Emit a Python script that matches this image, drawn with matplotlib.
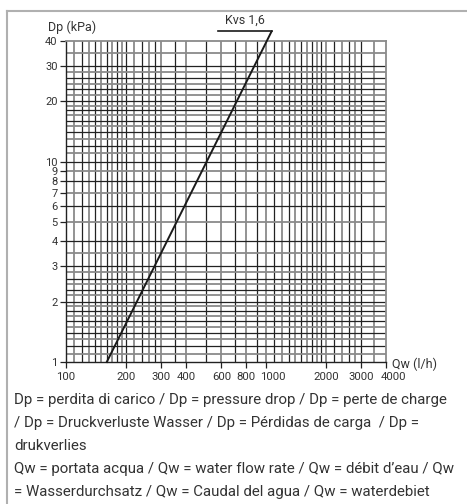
import matplotlib
matplotlib.use("Agg")
import matplotlib.pyplot as plt
from matplotlib.lines import Line2D
from matplotlib.transforms import ScaledTranslation

# Kvs 1,6 curve (endpoints)
qw_line = [160, 1070]
dp_line = [1.0, 44.7]
kvs_label = "Kvs 1,6"

x_ticks = [100, 200, 300, 400, 600, 800, 1000, 2000, 3000, 4000]
y_ticks = [1, 2, 3, 4, 5, 6, 7, 8, 9, 10, 20, 30, 40]

x_grid = ([110, 120, 130, 140, 150, 160, 170, 180, 190, 200,
           220, 240, 260, 280, 300, 350, 400, 500, 600, 700, 800, 900, 1000,
           1100, 1200, 1300, 1400, 1500, 1600, 1700, 1800, 1900, 2000,
           2200, 2400, 2600, 2800, 3000, 3500])
y_grid = ([1.1, 1.2, 1.3, 1.4, 1.5, 1.6, 1.7, 1.8, 1.9, 2,
           2.15, 2.3, 2.45, 2.6, 2.8, 3, 3.5, 4, 5, 6, 7, 8, 9, 10,
           11, 12, 13, 14, 15, 16, 17, 18, 19, 20,
           21.5, 23, 24.5, 26, 28, 30, 35])

legend_lines = [
    "Dp = perdita di carico / Dp = pressure drop / Dp = perte de charge",
    "/ Dp = Druckverluste Wasser / Dp = Pérdidas de carga  / Dp =",
    "drukverlies",
    "Qw = portata acqua / Qw = water flow rate / Qw = débit d\u2019eau / Qw",
    "= Wasserdurchsatz / Qw = Caudal del agua / Qw = waterdebiet",
]

plt.rcParams["font.family"] = ["Roboto", "DejaVu Sans"]
TXT = "#333333"
DARK = "#222222"
GREY = "#8a8a8a"

fig = plt.figure(figsize=(4.67, 5.04), dpi=100)
ax = fig.add_axes([66 / 467, 1 - 362 / 504, 320 / 467, 321 / 504])
ax.set_xscale("log")
ax.set_yscale("log")
ax.set_xlim(100, 4000)
ax.set_ylim(1, 40)

for i, v in enumerate(x_grid):
    ax.axvline(v, color=DARK if i % 2 else GREY,
               lw=0.9 if i % 2 else 1.3, zorder=1)
for i, v in enumerate(y_grid):
    ax.axhline(v, color=DARK if i % 2 else GREY,
               lw=0.9 if i % 2 else 1.3, zorder=1)

ax.plot(qw_line, dp_line, color="#1a1a1a", lw=1.4, clip_on=False, zorder=3)
# label underline
ax.plot([580, qw_line[-1]], [dp_line[-1], dp_line[-1]], color="#1a1a1a",
        lw=1.2, clip_on=False, zorder=3)
ax.text(790, 47.0, kvs_label, ha="center", va="bottom", fontsize=9,
        color=TXT)

for side in ["top", "right"]:
    ax.spines[side].set_color(GREY)
    ax.spines[side].set_linewidth(1.3)
for side in ["left", "bottom"]:
    ax.spines[side].set_color(DARK)
    ax.spines[side].set_linewidth(1.0)

ax.set_xticks(x_ticks)
ax.set_xticklabels([str(t) for t in x_ticks])
ax.set_yticks(y_ticks)
ax.set_yticklabels([str(t) for t in y_ticks])
ax.xaxis.set_minor_locator(matplotlib.ticker.NullLocator())
ax.yaxis.set_minor_locator(matplotlib.ticker.NullLocator())
ax.tick_params(axis="both", length=4, width=0.9, color=DARK,
               labelcolor=TXT)
ax.tick_params(axis="x", pad=3.5, labelsize=8.2)
ax.tick_params(axis="y", pad=2, labelsize=8)

# the crowded labels sit a little to the right of their tick
for lab in ax.get_xticklabels():
    if lab.get_text() in ("1000", "4000"):
        lab.set_transform(lab.get_transform() +
                          ScaledTranslation(5 / 72, 0, fig.dpi_scale_trans))

fig.text(48 / 467, 1 - 27 / 504, "Dp (kPa)", fontsize=9, color=TXT,
         va="center", ha="left")
fig.text(392 / 467, 1 - 364 / 504, "Qw (l/h)", fontsize=9, color=TXT,
         va="center", ha="left")

for k, line in enumerate(legend_lines):
    fig.text(14 / 467, 1 - (404 + 23 * k) / 504, line, fontsize=10.8,
             color=TXT, va="baseline", ha="left")

# outer frame (open on the right and bottom)
fig.add_artist(Line2D([7 / 467, 7 / 467], [0, 1 - 11 / 504],
                      transform=fig.transFigure, color="#b0b0b0", lw=1.5))
fig.add_artist(Line2D([7 / 467, 1], [1 - 11 / 504, 1 - 11 / 504],
                      transform=fig.transFigure, color="#b0b0b0", lw=1.5))

fig.savefig("out.png", dpi=100)
